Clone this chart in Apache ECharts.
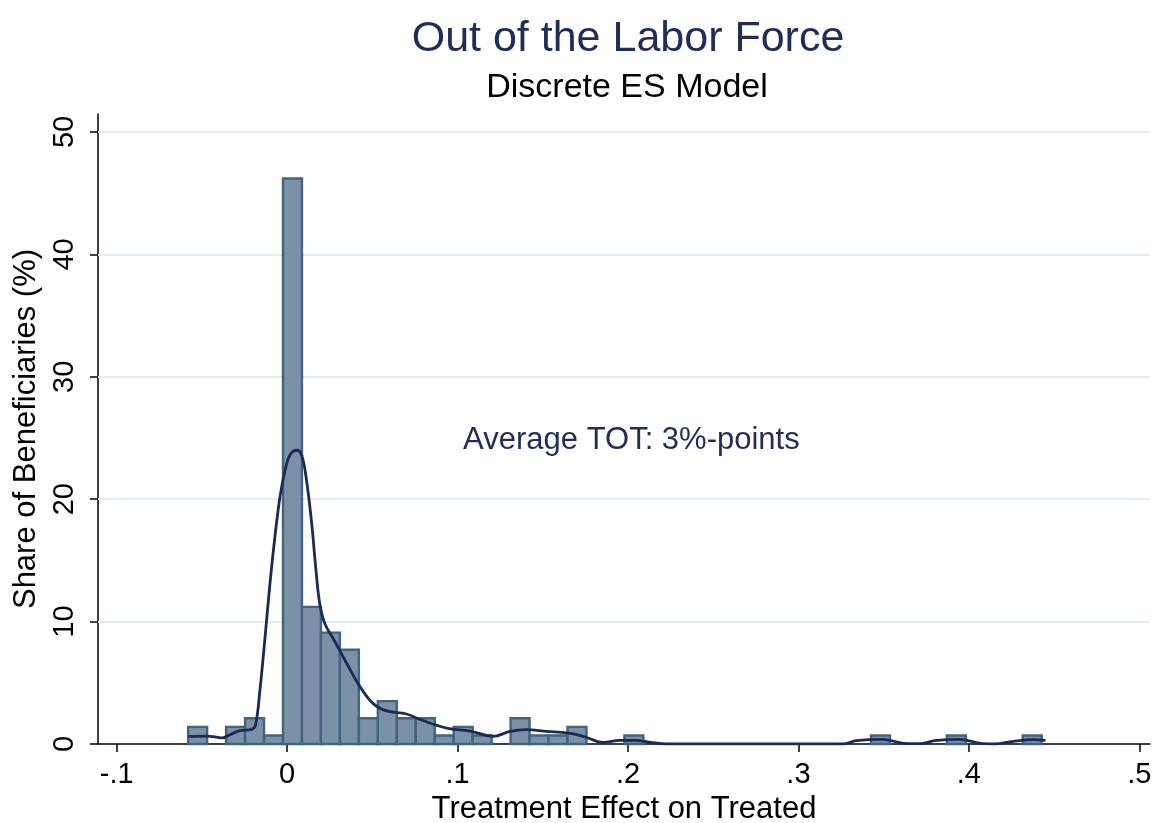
<!DOCTYPE html>
<html>
<head>
<meta charset="utf-8">
<script src="https://cdn.jsdelivr.net/npm/echarts@6/dist/echarts.min.js"></script>
<style>html,body{margin:0;padding:0;background:#fff}#c{width:1153px;height:823px}</style>
</head>
<body>
<div id="c"></div>
<script>
// ---- data ----
const titleText = 'Out of the Labor Force';
const subtitleText = 'Discrete ES Model';
const xAxisTitle = 'Treatment Effect on Treated';
const yAxisTitle = 'Share of Beneficiaries (%)';
const noteText = 'Average TOT: 3%-points';
const notePos = [0.202, 24.8];

const xTicks = [-0.1, 0, 0.1, 0.2, 0.3, 0.4, 0.5];
const yTicks = [0, 10, 20, 30, 40, 50];

const binStart = -0.0581;
const binWidth = 0.01113;
// share of beneficiaries (%) per bin
const binShares = [
  1.4, 0, 1.4, 2.1, 0.7, 46.2, 11.2, 9.1, 7.7, 2.1,
  3.5, 2.1, 2.1, 0.7, 1.4, 0.7, 0, 2.1, 0.7, 0.7,
  1.4, 0, 0, 0.7, 0, 0, 0, 0, 0, 0,
  0, 0, 0, 0, 0, 0, 0.7, 0, 0, 0,
  0.7, 0, 0, 0, 0.7
];

// kernel density curve (x, %)
const kdeX = [-0.058, -0.047, -0.038, -0.0336, -0.0277, -0.0208, -0.0185, -0.016, -0.013, -0.0101,
  -0.0072, -0.0042, -0.0013, 0.0016, 0.0056, 0.0085, 0.0114, 0.0144, 0.0169, 0.0192,
  0.0222, 0.0271, 0.0349, 0.0427, 0.0505, 0.0584, 0.070, 0.078, 0.0936, 0.1073,
  0.121, 0.1308, 0.1405, 0.1523, 0.164, 0.1738, 0.1855, 0.1953, 0.205, 0.2129,
  0.2227, 0.326, 0.334, 0.349, 0.364, 0.372, 0.380, 0.394, 0.408, 0.415,
  0.426, 0.438, 0.445];
const kdeY = [0.63, 0.65, 0.5, 0.76, 1.09, 1.2, 1.6, 4.36, 8.7, 13.1,
  16.9, 20.2, 22.3, 23.6, 24.0, 23.6, 21.5, 18.0, 14.2, 11.4,
  9.8, 8.6, 6.6, 4.7, 3.3, 2.7, 2.45, 2.0, 1.3, 1.05,
  0.63, 1.03, 1.17, 1.03, 0.9, 0.63, 0.14, 0.3, 0.3, 0.14,
  0.0, 0.0, 0.27, 0.38, 0.03, 0.03, 0.27, 0.38, 0.03, 0.0,
  0.22, 0.35, 0.3];

// ---- chart ----
const FONT = 'Liberation Sans, Arial, sans-serif';
const navy = '#1f2d57';
const fmtX = v => v === 0 ? '0' : (v < 0 ? '-' : '') + String(+Math.abs(v).toFixed(2)).replace(/^0/, '');

const bars = binShares.map((h, i) => [binStart + i * binWidth, binStart + (i + 1) * binWidth, h]).filter(d => d[2] > 0);
const kde = kdeX.map((x, i) => [x, kdeY[i]]);

const chart = echarts.init(document.getElementById('c'), null, {renderer: 'canvas'});
chart.setOption({
  animation: false,
  backgroundColor: '#fff',
  graphic: [
    {type: 'text', x: 628, y: 39, style: {text: titleText, fontFamily: FONT, fontSize: 43, fill: navy, align: 'center', verticalAlign: 'middle'}},
    {type: 'text', x: 627, y: 88, style: {text: subtitleText, fontFamily: FONT, fontSize: 34, fill: '#000', align: 'center', verticalAlign: 'middle'}}
  ],
  grid: {left: 98, right: 3, top: 114, bottom: 79, containLabel: false, outerBoundsMode: 'none'},
  xAxis: {
    type: 'value', min: -0.1110, max: 0.5063,
    name: xAxisTitle, nameLocation: 'middle', nameGap: 47,
    nameTextStyle: {fontFamily: FONT, fontSize: 31, color: '#000'},
    axisLine: {show: true, onZero: false, lineStyle: {color: '#000', width: 1.5}},
    axisTick: {show: true, customValues: xTicks, length: 8, lineStyle: {color: '#000', width: 1.5}},
    axisLabel: {show: true, customValues: xTicks, formatter: fmtX, margin: 16, fontFamily: FONT, fontSize: 29, color: '#000'},
    splitLine: {show: false}
  },
  yAxis: {
    type: 'value', min: 0, max: 51.47,
    name: yAxisTitle, nameLocation: 'middle', nameGap: 56, nameRotate: 90,
    nameTextStyle: {fontFamily: FONT, fontSize: 31, color: '#000'},
    axisLine: {show: true, onZero: false, lineStyle: {color: '#000', width: 1.5}},
    axisTick: {show: true, customValues: yTicks, length: 8, lineStyle: {color: '#000', width: 1.5}},
    axisLabel: {show: true, customValues: yTicks, rotate: 90, margin: 19, fontFamily: FONT, fontSize: 29, color: '#000'},
    splitLine: {show: false}
  },
  series: [
    {
      type: 'line', data: [], z: 1, silent: true,
      markLine: {
        z: 1, silent: true, symbol: 'none', label: {show: false},
        lineStyle: {color: '#e4eef0', width: 2, type: 'solid'},
        data: yTicks.filter(v => v > 0).map(v => ({yAxis: v}))
      }
    },
    {
      type: 'custom', z: 2, data: bars, silent: true,
      renderItem: function (params, api) {
        const p0 = api.coord([api.value(0), api.value(2)]);
        const p1 = api.coord([api.value(1), 0]);
        return {
          type: 'rect',
          shape: {x: p0[0], y: p0[1], width: p1[0] - p0[0], height: p1[1] - p0[1]},
          style: {fill: '#7b91a8', stroke: '#41647f', lineWidth: 2.4}
        };
      },
      encode: {x: [0, 1], y: 2}
    },
    {
      type: 'line', z: 3, data: kde, smooth: 0.4, showSymbol: false, symbol: 'none', silent: true,
      lineStyle: {color: '#1a2a55', width: 2.8}
    },
    {
      type: 'custom', z: 4, data: [notePos], silent: true,
      renderItem: function (params, api) {
        const p = api.coord([api.value(0), api.value(1)]);
        return {
          type: 'text', x: p[0], y: p[1],
          style: {text: noteText, fontFamily: FONT, fontSize: 31, fill: navy, align: 'center', verticalAlign: 'middle'}
        };
      },
      encode: {x: 0, y: 1}
    }
  ]
});
</script>
</body>
</html>
